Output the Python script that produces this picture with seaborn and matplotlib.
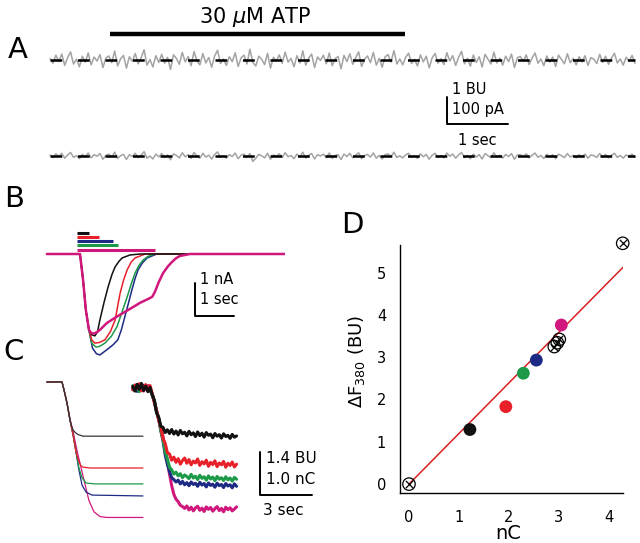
import numpy as np
import seaborn as sns
import matplotlib.pyplot as plt

sns.set_style("white")
plt.rcParams['font.family'] = ['DejaVu Sans']
plt.rcParams['mathtext.fontset'] = 'dejavusans'
plt.rcParams['text.color'] = 'black'
plt.rcParams['axes.labelcolor'] = 'black'

W, H = 640, 543

# colours of the five pulse durations
c_black, c_red, c_green, c_blue, c_mag = "#111111", "#e8202a", "#1c9a48", "#1c2a84", "#d0187c"

# ---- A: F380 traces, units of 0.01 BU (top: with ATP, bottom: control)
a_top = [5, -12, 18, -6, 22, -20, 9, 30, -15, 3, -25, 14, -8, 26, -18, 11, -4, 20, -28, 7,
         15, -10, 33, -22, 4, 17, -30, 12, -5, 24, -14, 8, 38, -19, 2, -26, 16, -9, 21, -12,
         10, -35, 19, 6, -16, 28, -7, 13, -21, 31, -3, -18, 24, -11, 9, -27, 15, 36, -13, 4,
         -20, 12, -6, 27, -24, 8, 18, -15, 40, -9, -22, 14, 3, -17, 25, -30, 10, -4, 19, -12,
         29, -8, 6, -25, 16, -11, 34, -19, 7, 22, -28, 11, -2, 18, -14, 26, -21, 5, 13, -33,
         17, -6, 23, -16, 9, 30, -24, 2, 15, -10, 28, -19, 6, -27, 12, 20, -8, 35, -15, 4,
         -18, 11, 25, -13, 3, -22, 19, -7, 14, -29, 8, 24, -12, 5, -17, 27, -4, 16, -20, 10,
         32, -14, 6, -23, 18, -9, 12, -26, 21, 3, -15, 29, -11, 7, -19, 14, -6, 22, -28, 9,
         13, -5, 19, -17, 8, 26, -12, 4, -21, 15, -8, 11, -24, 18, 2, -14, 23, -10, 6, -18,
         12, -7, 16, -20, 9, 3, -13, 21, -9, 14, -16, 7, 25, -11, 4, -19, 10, -5, 17, -12]
a_bottom = [3, -6, 8, -2, 10, -8, 4, 13, -5, 1, -10, 6, -3, 11, -7, 5, -1, 9, -12, 2,
            7, -4, 14, -9, 1, 6, -13, 5, -2, 10, -6, 3, 16, -8, 0, -11, 7, -3, 9, -5,
            4, -14, 8, 2, -7, 12, -3, 5, -9, 13, -1, -8, 10, -4, 3, -11, 6, 15, -5, 1,
            -8, 5, -2, 11, -10, 3, 7, -6, 9, -20, -9, 6, 1, -7, 10, -12, 4, -1, 8, -5,
            12, -3, 2, -10, 7, -4, 14, -8, 3, 9, -11, 5, 0, 7, -6, 11, -9, 2, 5, -13,
            7, -2, 10, -7, 4, 12, -10, 1, 6, -4, 11, -8, 2, -11, 5, 8, -3, 14, -6, 1,
            -7, 4, 10, -5, 1, -9, 8, -3, 6, -12, 3, 10, -5, 2, -7, 11, -1, 7, -8, 4,
            13, -6, 2, -10, 7, -4, 5, -11, 9, 1, -6, 12, -4, 3, -8, 6, -2, 9, -12, 4,
            5, -2, 8, -7, 3, 11, -5, 2, -9, 6, -3, 5, -10, 7, 1, -6, 9, -4, 2, -7,
            5, -3, 7, -8, 4, 1, -5, 9, -4, 6, -7, 3, 10, -5, 2, -8, 4, -2, 7, -5]
a_dur = 9.59
atp_on, atp_off = 0.98, 5.82

# ---- B: currents (s, nA)
b_black_t = [-0.85, 0, 0.08, 0.15, 0.23, 0.30, 0.385, 0.45, 0.51, 0.62, 0.72, 0.82, 0.90, 1.0, 1.08, 1.28, 1.54, 5.97]
b_black_i = [0, 0, -0.8, -1.7, -2.3, -2.45, -2.48, -2.35, -2.0, -1.45, -1.0, -0.62, -0.39, -0.22, -0.12, -0.03, 0, 0]
b_red_t = [-0.85, 0, 0.08, 0.15, 0.23, 0.30, 0.38, 0.5, 0.64, 0.78, 0.90, 1.03, 1.12, 1.21, 1.31, 1.41, 1.67, 5.97]
b_red_i = [0, 0, -0.8, -1.7, -2.3, -2.6, -2.7, -2.68, -2.6, -2.35, -2.0, -1.18, -0.78, -0.48, -0.25, -0.12, 0, 0]
b_green_t = [-0.85, 0, 0.08, 0.15, 0.23, 0.30, 0.41, 0.5, 0.64, 0.8, 0.95, 1.08, 1.21, 1.31, 1.41, 1.51, 1.62, 1.75, 1.92, 5.97]
b_green_i = [0, 0, -0.8, -1.7, -2.3, -2.7, -2.82, -2.8, -2.7, -2.5, -2.2, -1.75, -1.3, -0.92, -0.58, -0.35, -0.18, -0.07, 0, 0]
b_blue_t = [-0.85, 0, 0.08, 0.15, 0.23, 0.32, 0.42, 0.51, 0.69, 0.85, 0.97, 1.06, 1.15, 1.24, 1.33, 1.41, 1.49, 1.60, 1.72, 1.97, 5.97]
b_blue_i = [0, 0, -0.8, -1.7, -2.3, -2.85, -3.02, -3.06, -2.9, -2.75, -2.6, -2.3, -1.9, -1.5, -1.09, -0.75, -0.48, -0.27, -0.12, 0, 0]
b_mag_t = [-0.85, 0, 0.08, 0.15, 0.23, 0.28, 0.33, 0.42, 0.51, 0.69, 0.9, 1.10, 1.33, 1.54, 1.75, 1.85, 1.92,
           2.02, 2.13, 2.25, 2.36, 2.46, 2.56, 2.82, 5.97]
b_mag_i = [0, 0, -0.8, -1.7, -2.3, -2.38, -2.42, -2.38, -2.3, -2.09, -1.93, -1.79, -1.63, -1.48, -1.36, -1.3, -1.15,
           -0.85, -0.58, -0.38, -0.24, -0.13, -0.06, 0, 0]
pulse_start = -0.08
pulse_end = [0.23, 0.49, 0.85, 0.97, 1.92]  # black, red, blue, green, magenta

# ---- C left: integrated charge (s, nC)
c_black_t = [-0.87, 0, 0.12, 0.29, 0.46, 0.55, 0.64, 0.78, 0.92, 1.21, 4.68]
c_black_q = [0, 0, -0.19, -0.49, -0.88, -1.02, -1.12, -1.18, -1.22, -1.26, -1.26]
c_red_t = [-0.87, 0, 0.12, 0.29, 0.46, 0.64, 0.81, 0.98, 1.10, 1.21, 1.62, 4.68]
c_red_q = [0, 0, -0.19, -0.49, -0.88, -1.23, -1.63, -1.86, -1.95, -1.98, -2.0, -2.0]
c_green_t = [-0.87, 0, 0.12, 0.29, 0.46, 0.64, 0.81, 0.98, 1.16, 1.39, 1.91, 4.68]
c_green_q = [0, 0, -0.19, -0.49, -0.88, -1.23, -1.63, -2.0, -2.23, -2.35, -2.37, -2.37]
c_blue_t = [-0.87, 0, 0.12, 0.29, 0.46, 0.64, 0.81, 0.98, 1.16, 1.39, 1.73, 4.68]
c_blue_q = [0, 0, -0.19, -0.49, -0.88, -1.23, -1.63, -2.05, -2.40, -2.56, -2.63, -2.65]
c_mag_t = [-0.87, 0, 0.12, 0.29, 0.46, 0.64, 0.87, 1.21, 1.56, 1.85, 2.2, 2.6, 4.68]
c_mag_q = [0, 0, -0.19, -0.49, -0.86, -1.15, -1.60, -2.18, -2.76, -3.02, -3.13, -3.15, -3.15]

# ---- C right: fluorescence (BU), sampled every 0.125 s from -1 s
f_black = [0.05, -0.10, 0.12, -0.04, 0.15, -0.08, 0.06, -0.12, 0.02,
           -0.22, -0.40, -0.80, -0.95, -1.25, -1.28, -1.45, -1.36,
           -1.48, -1.35, -1.50, -1.40, -1.53, -1.38, -1.49, -1.44, -1.56, -1.41, -1.52, -1.46, -1.58, -1.43,
           -1.55, -1.47, -1.60, -1.45, -1.54, -1.50, -1.62, -1.48, -1.57, -1.52, -1.63, -1.49, -1.58, -1.54,
           -1.64, -1.51, -1.60, -1.56]
f_red = [-0.06, 0.10, -0.02, 0.14, -0.09, 0.04, 0.11, -0.05, 0.08,
         -0.18, -0.48, -0.72, -1.05, -1.28, -1.65, -1.80, -2.10,
         -2.15, -2.35, -2.25, -2.42, -2.30, -2.48, -2.36, -2.28, -2.45, -2.33, -2.50, -2.38, -2.44, -2.31,
         -2.52, -2.40, -2.47, -2.35, -2.55, -2.42, -2.49, -2.37, -2.56, -2.44, -2.50, -2.39, -2.58, -2.45,
         -2.52, -2.41, -2.57, -2.48]
f_green = [0.08, -0.05, 0.03, -0.12, 0.10, -0.02, 0.06, -0.09, 0.04,
           -0.25, -0.42, -0.78, -1.00, -1.38, -1.68, -2.08, -2.30,
           -2.58, -2.66, -2.80, -2.74, -2.86, -2.79, -2.92, -2.83, -2.88, -2.95, -2.81, -2.93, -2.87, -2.98,
           -2.84, -2.94, -2.89, -3.00, -2.86, -2.96, -2.90, -3.02, -2.88, -2.97, -2.92, -3.01, -2.89, -2.99,
           -2.93, -3.03, -2.91, -2.97]
f_blue = [-0.03, 0.07, -0.11, 0.02, -0.06, 0.09, -0.01, 0.05, -0.07,
          -0.21, -0.44, -0.76, -1.02, -1.40, -1.72, -2.18, -2.48,
          -2.72, -2.92, -2.98, -3.06, -3.00, -3.12, -3.04, -3.15, -3.08, -3.18, -3.06, -3.14, -3.10, -3.20,
          -3.07, -3.16, -3.11, -3.22, -3.09, -3.17, -3.13, -3.23, -3.10, -3.18, -3.14, -3.24, -3.11, -3.19,
          -3.15, -3.25, -3.12, -3.20]
f_mag = [0.02, -0.08, 0.06, -0.03, 0.11, -0.10, 0.03, 0.08, -0.04,
         -0.20, -0.45, -0.75, -1.00, -1.28, -1.58, -2.02, -2.38,
         -2.80, -3.18, -3.46, -3.62, -3.70, -3.82, -3.86,
         -3.92, -3.84, -3.97, -3.88, -4.00, -3.90, -3.85, -3.98, -3.91, -4.02, -3.87, -3.95, -3.89, -4.01,
         -3.93, -3.86, -3.99, -3.92, -4.03, -3.88, -3.96, -3.90, -4.00, -3.94, -3.87]
f_t0, f_dt = -1.0, 0.125

# ---- D: dF380 vs charge
d_q = [1.22, 1.94, 2.29, 2.55, 3.05]
d_f = [1.29, 1.83, 2.62, 2.93, 3.76]
open_q = [0.0, 2.91, 2.97, 3.01, 4.28]
open_f = [0.0, 3.25, 3.34, 3.42, 5.69]
fit_slope = 1.195
fit_qmax = 4.3

fig = plt.figure(figsize=(W / 100, H / 100), dpi=100)


def panel(l, t, r, b, x0, sx, y0, sy):
    # axes placed in pixels, data mapped linearly with origin (x0, y0) and px/unit sx, sy
    ax = fig.add_axes([l / W, 1 - b / H, (r - l) / W, (b - t) / H])
    ax.set_xlim((l - x0) / sx, (r - x0) / sx)
    ax.set_ylim((y0 - b) / sy, (y0 - t) / sy)
    ax.axis("off")
    return ax


def trace(ax, x, y, color, lw, **kw):
    sns.lineplot(x=np.asarray(x, float), y=np.asarray(y, float), ax=ax, color=color, lw=lw,
                 estimator=None, sort=False, legend=False, **kw)


def label(x, y, s):
    fig.text(x / W, 1 - y / H, s, fontsize=21, ha="center", va="center")


# ---------------- panel A
axA = panel(45, 0, 640, 175, 50, 61, 156, 27)
top_off = (156 - 60) / 27
tA_top = np.linspace(0, a_dur, len(a_top))
tA_bot = np.linspace(0, a_dur, len(a_bottom))
trace(axA, tA_top, np.array(a_top) / 100 + top_off, "#a3a3a3", 1.1)
trace(axA, tA_bot, np.array(a_bottom) / 100, "#a3a3a3", 1.1)
for off in (top_off, 0):
    axA.plot([0, a_dur], [off, off], color="black", lw=1.8, ls=(0, (4.7, 6.3)))
axA.plot([atp_on, atp_off], [4.52, 4.52], color="black", lw=3.2, solid_capstyle="butt")
axA.text((atp_on + atp_off) / 2 - 0.04, 5.15, r"30 $\mu$M ATP", fontsize=15, ha="center", va="center")
sbx, sby = 6.51, 1.185
axA.plot([sbx, sbx, sbx + 1], [sby + 1, sby, sby], color="black", lw=1.4)
axA.text(sbx + 0.08, sby + 1.27, "1 BU", fontsize=10.5, va="center")
axA.text(sbx + 0.08, sby + 0.52, "100 pA", fontsize=10.5, va="center")
axA.text(sbx + 0.5, sby - 0.6, "1 sec", fontsize=10.5, ha="center", va="center")
label(18, 50, "A")

# ---------------- panel B
axB = panel(40, 222, 285, 362, 80, 39, 254, 33)
for t, i, c in [(b_blue_t, b_blue_i, c_blue), (b_green_t, b_green_i, c_green),
                (b_red_t, b_red_i, c_red), (b_black_t, b_black_i, c_black)]:
    trace(axB, t, i, c, 1.1)
trace(axB, b_mag_t, b_mag_i, c_mag, 1.8)
for k, (end, c) in enumerate(zip(pulse_end, [c_black, c_red, c_blue, c_green, c_mag])):
    yb = 0.636 - 0.121 * k if k < 4 else 0.121
    axB.plot([pulse_start, end], [yb, yb], color=c, lw=2.2, solid_capstyle="butt")
bx, by = 2.95, -1.88
axB.plot([bx, bx, bx + 1], [by + 1, by, by], color="black", lw=1.4)
axB.text(bx + 0.12, by + 1.1, "1 nA", fontsize=10.5, va="center")
axB.text(bx + 0.12, by + 0.5, "1 sec", fontsize=10.5, va="center")
label(14, 199, "B")

# ---------------- panel C
axC = panel(40, 368, 335, 535, 62, 17.3, 382, 43)
for t, q, c in [(c_mag_t, c_mag_q, c_mag), (c_blue_t, c_blue_q, c_blue), (c_green_t, c_green_q, c_green),
                (c_red_t, c_red_q, c_red), (c_black_t, c_black_q, "#333333")]:
    trace(axC, t, q, c, 0.9)
shift_t, shift_q, bu_per_nc = 5.09, -0.14, 1.4
for f, c in [(f_mag, c_mag), (f_blue, c_blue), (f_green, c_green), (f_red, c_red), (f_black, c_black)]:
    tf = f_t0 + f_dt * np.arange(len(f)) + shift_t
    trace(axC, tf, np.array(f) / bu_per_nc + shift_q, c, 2.2)
cx, cy = 11.45, -2.63
axC.plot([cx, cx, cx + 3], [cy + 1, cy, cy], color="black", lw=1.4)
axC.text(cx + 0.35, cy + 0.86, "1.4 BU", fontsize=11, va="center")
axC.text(cx + 0.35, cy + 0.37, "1.0 nC", fontsize=11, va="center")
axC.text(cx + 1.35, cy - 0.35, "3 sec", fontsize=11, ha="center", va="center")
label(14, 352, "C")

# ---------------- panel D
axD = fig.add_axes([400 / W, 1 - 493 / H, 222.7 / W, 248 / H])
fx = np.array([0, fit_qmax])
axD.plot(fx, fit_slope * fx, color="#d82020", lw=1.1, zorder=1)
sns.scatterplot(x=d_q, y=d_f, hue=["k", "r", "g", "b", "m"], ax=axD, s=85, edgecolor="none",
                palette=[c_black, c_red, c_green, c_blue, c_mag], legend=False, zorder=3)
axD.scatter(open_q, open_f, s=80, facecolors="none", edgecolors="black", linewidths=0.9, zorder=4, clip_on=False)
axD.scatter(open_q, open_f, s=28, marker="x", color="black", linewidths=0.9, zorder=4, clip_on=False)
axD.set_xlim(-0.18, 4.28)
axD.set_ylim(-0.21, 5.65)
axD.set_xticks(range(5))
axD.set_yticks(range(6))
sns.despine(ax=axD)
for s in ("left", "bottom"):
    axD.spines[s].set_linewidth(1.0)
    axD.spines[s].set_color("black")
axD.tick_params(axis="x", direction="out", length=4, width=1, labelsize=10.5, pad=8, colors="black")
axD.tick_params(axis="y", direction="out", length=4, width=1, labelsize=10.5, pad=6, colors="black")
axD.set_xlabel("nC", fontsize=14)
axD.set_ylabel(r"$\Delta$F$_{380}$ (BU)", fontsize=13)
axD.xaxis.set_label_coords(0.485, -0.125)
axD.yaxis.set_label_coords(-0.15, 0.53)
label(352, 225, "D")

fig.savefig("out.png", dpi=100)
